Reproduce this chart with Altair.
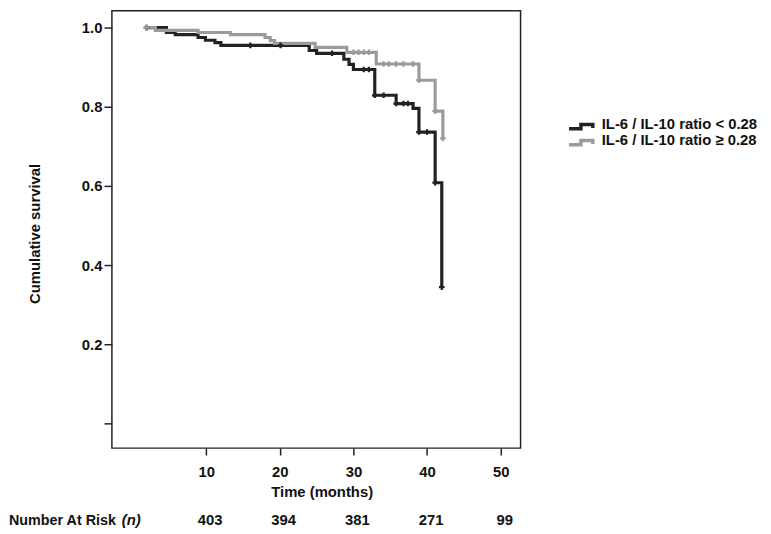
import altair as alt
import pandas as pd

# Kaplan-Meier step data (time in months, cumulative survival)
times_lo = [1.9, 4.6, 5.8, 8.9, 9.9, 11.2, 12.0, 24.0, 25.0, 28.7, 29.4, 30.0, 32.9, 35.8, 38.1, 38.9, 41.1, 42.0]
surv_lo = [1.0, 0.988, 0.982, 0.975, 0.968, 0.962, 0.955, 0.942, 0.935, 0.92, 0.907, 0.894, 0.829, 0.808, 0.796, 0.736, 0.608, 0.344]
cens_lo = [1.9, 16.0, 20.1, 27.1, 31.4, 32.1, 32.9, 34.1, 35.8, 36.8, 37.4, 38.9, 40.0, 41.1, 42.0]

times_hi = [1.9, 3.1, 8.9, 13.3, 18.0, 18.7, 19.3, 24.8, 29.1, 33.1, 38.9, 41.1, 42.15]
surv_hi = [1.0, 0.993, 0.9875, 0.982, 0.975, 0.967, 0.96, 0.95, 0.9375, 0.908, 0.867, 0.789, 0.72]
cens_hi = [1.9, 30.0, 30.7, 31.4, 32.1, 34.1, 34.8, 35.8, 36.8, 38.1, 38.9, 41.1, 42.15]

groups = ["IL-6 / IL-10 ratio < 0.28", "IL-6 / IL-10 ratio \u2265 0.28"]
colors = ["#222222", "#9b9b9b"]

risk_times = [10, 20, 30, 40, 50]
risk_counts = [403, 394, 381, 271, 99]

x_ticks = [10, 20, 30, 40, 50]
y_ticks = [0, 0.2, 0.4, 0.6, 0.8, 1.0]


def step_value(times, surv, t):
    v = surv[0]
    for ti, si in zip(times, surv):
        if ti <= t + 1e-9:
            v = si
    return v


curve_rows = []
cens_rows = []
for g, ts, ss, cs in [(groups[0], times_lo, surv_lo, cens_lo), (groups[1], times_hi, surv_hi, cens_hi)]:
    for t, s in zip(ts, ss):
        curve_rows.append({"group": g, "t": t, "s": s})
    for c in cs:
        cens_rows.append({"group": g, "t": c, "s": step_value(ts, ss, c)})

curves = pd.DataFrame(curve_rows)
cens = pd.DataFrame(cens_rows)
risk = pd.DataFrame({"t": risk_times, "n": [str(v) for v in risk_counts]})
one = pd.DataFrame({"a": [0]})

FONT = "Liberation Sans"

xscale = alt.Scale(domain=[-2.8, 52.7], nice=False, zero=False)
yscale = alt.Scale(domain=[-0.0625, 1.0425], nice=False, zero=False)
cscale = alt.Scale(domain=groups, range=colors)

xaxis = alt.Axis(values=x_ticks, title="Time (months)", grid=False, domain=False,
                 tickSize=7, tickWidth=1.5, tickColor="#222", labelPadding=10,
                 labelFont=FONT, labelFontSize=15, labelFontWeight="bold", labelColor="#111",
                 titleFont=FONT, titleFontSize=15, titleFontWeight="bold", titleColor="#111",
                 titlePadding=5, titleX=212)
yaxis = alt.Axis(values=y_ticks, title="Cumulative survival", grid=False, domain=False,
                 tickSize=8, tickWidth=1.5, tickColor="#222", labelPadding=2,
                 labelExpr="datum.value == 0 ? '' : format(datum.value, '.1f')",
                 labelFont=FONT, labelFontSize=15, labelFontWeight="bold", labelColor="#111",
                 titleFont=FONT, titleFontSize=15, titleFontWeight="bold", titleColor="#111",
                 titlePadding=39, titleY=225)

lines = alt.Chart(curves).mark_line(interpolate="step-after", strokeWidth=3.2).encode(
    x=alt.X("t:Q", scale=xscale, axis=xaxis),
    y=alt.Y("s:Q", scale=yscale, axis=yaxis),
    color=alt.Color("group:N", scale=cscale, legend=None),
    order=alt.Order("t:Q"),
)

marks = alt.Chart(cens).mark_point(shape="cross", filled=True, size=32, opacity=1).encode(
    x="t:Q", y="s:Q",
    color=alt.Color("group:N", scale=cscale, legend=None),
)

risk_text = alt.Chart(risk).mark_text(font=FONT, fontSize=15, fontWeight="bold", color="#111",
                                      baseline="alphabetic", dx=4).encode(
    x="t:Q", y=alt.value(520), text="n:N"
)

risk_label = alt.Chart(one).mark_text(text="Number At Risk", font=FONT, fontSize=14.5, fontWeight="bold",
                                      color="#111", align="left", baseline="alphabetic").encode(
    x=alt.value(-104), y=alt.value(520)
)
risk_n = alt.Chart(one).mark_text(text="(n)", font=FONT, fontSize=15, fontWeight="bold", fontStyle="italic",
                                  color="#111", align="left", baseline="alphabetic").encode(
    x=alt.value(10), y=alt.value(520)
)

legend_layers = []
sym_path = "M-1,0.18H0V-0.18H1V0.12"
for i, (g, c) in enumerate(zip(groups, colors)):
    yy = 117 + 16.3 * i
    legend_layers.append(
        alt.Chart(one).mark_point(shape=sym_path, size=576, filled=False, strokeWidth=3.5,
                                  color=c, opacity=1).encode(x=alt.value(474), y=alt.value(yy))
    )
    legend_layers.append(
        alt.Chart(one).mark_text(text=g, font=FONT, fontSize=15, fontWeight="bold", color="#111",
                                 align="left", baseline="alphabetic").encode(
            x=alt.value(495), y=alt.value(yy + 2.6))
    )

chart = alt.layer(lines, marks, risk_text, risk_label, risk_n, *legend_layers).properties(
    width=413, height=442,
    padding={"left": 105, "top": 0, "right": 245, "bottom": 84},
    autosize=alt.AutoSizeParams(type="none"),
).configure_view(stroke="#222", strokeWidth=1.5)

chart.save("out.html", embed_options={"renderer": "svg", "actions": False})
